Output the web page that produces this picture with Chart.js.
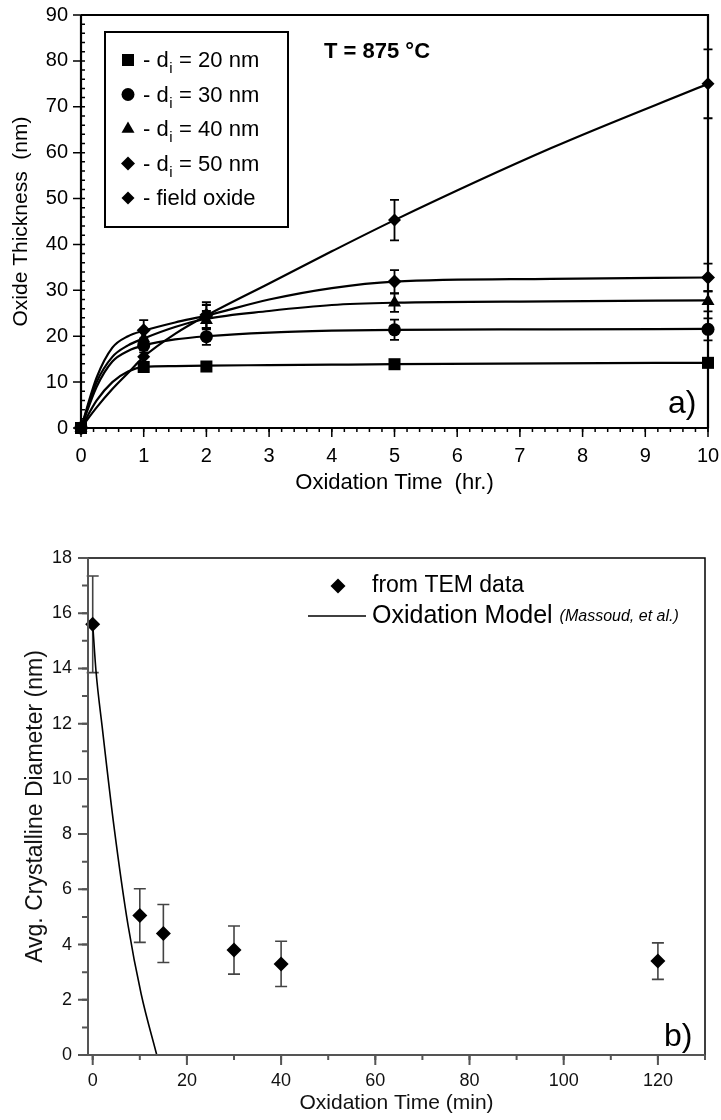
<!DOCTYPE html>
<html>
<head>
<meta charset="utf-8">
<script src="https://cdn.jsdelivr.net/npm/chart.js@4.4.1/dist/chart.umd.min.js"></script>
<style>
  body { margin: 0; background: #fff; }
  .wrap { position: absolute; left: 0; width: 721px; }
  #wrapA { top: 0; height: 520px; }
  #wrapB { top: 540px; height: 580px; }
</style>
</head>
<body>
<div class="wrap" id="wrapA"><canvas id="chartA"></canvas></div>
<div class="wrap" id="wrapB"><canvas id="chartB"></canvas></div>
<script>
// a) oxide thickness, measured points
const hours = [0, 1, 2, 5, 10];
const thick20 = [0, 13.3, 13.4, 13.9, 14.2];
const thick30 = [0, 18.0, 19.9, 21.4, 21.5];
const thick40 = [0, 19.5, 23.5, 27.3, 27.6];
const thick50 = [0, 21.3, 24.6, 31.9, 32.8];
const thickField = [0, 15.5, 24.3, 45.3, 75.0];
const err20 = [0, 0, 0, 0, 0];
const err30 = [0, 1.5, 1.8, 2.2, 2.4];
const err40 = [0, 1.6, 2.0, 2.0, 2.2];
const err50 = [0, 2.2, 2.8, 2.5, 3.0];
const errField = [0, 1.5, 2.5, 4.4, 7.5];

// a) fitted growth curves
const fitHours = [0, 0.25, 0.5, 0.75, 1, 1.5, 2, 3, 4, 5, 7.5, 10];
const fit20 = [0, 6.0, 10.0, 12.3, 13.3, 13.5, 13.6, 13.7, 13.8, 13.9, 14.1, 14.2];
const fit30 = [0, 9.0, 14.5, 16.8, 18.0, 19.3, 20.0, 20.8, 21.2, 21.4, 21.5, 21.6];
const fit40 = [0, 10.0, 15.5, 18.0, 19.5, 22.0, 23.8, 25.5, 26.8, 27.3, 27.6, 27.8];
const fit50 = [0, 11.0, 17.5, 20.0, 21.2, 23.0, 24.5, 28.0, 30.5, 31.9, 32.5, 32.8];
const fitField = [0, 4.5, 8.5, 12.0, 15.5, 20.5, 24.5, 31.5, 38.5, 45.3, 61.0, 75.0];

const seriesLabels = ['20 nm', '30 nm', '40 nm', '50 nm', 'field oxide'];
const xTicksA = [0, 1, 2, 3, 4, 5, 6, 7, 8, 9, 10];
const yTicksA = [0, 10, 20, 30, 40, 50, 60, 70, 80, 90];

// b) crystallite diameter
const minutes = [0, 10, 15, 30, 40, 120];
const diameter = [15.6, 5.05, 4.4, 3.8, 3.3, 3.4];
const diameterErr = [1.75, 0.97, 1.05, 0.87, 0.82, 0.66];
const modelMinutes = [0, 0.7, 2, 4.5, 7.5, 10.3, 13.6];
const modelDiameter = [15.6, 13.9, 11.9, 8.3, 4.7, 2.2, 0];
const xTicksB = [0, 20, 40, 60, 80, 100, 120];
const yTicksB = [0, 2, 4, 6, 8, 10, 12, 14, 16, 18];

const FONT = '"Liberation Sans", Arial, sans-serif';

function toPoints(xs, ys) {
  return xs.map((x, i) => ({ x: x, y: ys[i] }));
}

function markers(label, ys, errs, style, r, sub) {
  return {
    label: label,
    data: toPoints(hours, ys),
    errors: errs,
    showLine: false,
    pointStyle: style,
    pointRadius: r,
    pointBackgroundColor: '#000',
    pointBorderColor: '#000',
    pointBorderWidth: 0,
    clip: false,
    inBox: true,
    sub: sub
  };
}

function curve(xs, ys, width) {
  return {
    data: toPoints(xs, ys),
    showLine: true,
    borderColor: '#000',
    borderWidth: width,
    pointRadius: 0,
    cubicInterpolationMode: 'monotone',
    fill: false
  };
}

// error bars, drawn under the markers
const errorBars = {
  id: 'errorBars',
  beforeDatasetsDraw(chart, args, o) {
    const { ctx, scales: { x, y } } = chart;
    ctx.save();
    ctx.strokeStyle = o.color || '#000';
    ctx.lineWidth = o.width || 1.5;
    const cap = o.cap || 5;
    chart.data.datasets.forEach(ds => {
      if (!ds.errors) return;
      ds.data.forEach((pt, j) => {
        const e = ds.errors[j];
        if (!e) return;
        const px = x.getPixelForValue(pt.x);
        const top = y.getPixelForValue(pt.y + e);
        const bot = y.getPixelForValue(pt.y - e);
        ctx.beginPath();
        ctx.moveTo(px, top); ctx.lineTo(px, bot);
        ctx.moveTo(px - cap, top); ctx.lineTo(px + cap, top);
        ctx.moveTo(px - cap, bot); ctx.lineTo(px + cap, bot);
        ctx.stroke();
      });
    });
    ctx.restore();
  }
};

function tickRow(ctx, scale, area, step, len) {
  const start = Math.ceil(scale.min / step - 1e-9);
  ctx.beginPath();
  for (let k = start; k * step <= scale.max + 1e-9; k++) {
    const p = scale.getPixelForValue(k * step);
    if (scale.isHorizontal()) {
      ctx.moveTo(p, area.bottom); ctx.lineTo(p, area.bottom + len);
    } else {
      ctx.moveTo(area.left, p); ctx.lineTo(area.left - len, p);
    }
  }
  ctx.stroke();
}

// plot frame with major and minor tick marks
const axisFrame = {
  id: 'axisFrame',
  afterDatasetsDraw(chart, args, o) {
    const { ctx, chartArea: a, scales: { x, y } } = chart;
    ctx.save();
    ctx.strokeStyle = o.axisColor;
    ctx.lineWidth = o.tickWidth;
    tickRow(ctx, x, a, o.xMajor, o.xMajorLen);
    tickRow(ctx, x, a, o.xMinor, o.xMinorLen);
    tickRow(ctx, y, a, o.yMajor, o.yMajorLen);
    tickRow(ctx, y, a, o.yMinor, o.yMinorLen);

    ctx.strokeStyle = o.boxColor;
    ctx.lineWidth = o.boxWidth;
    ctx.beginPath();
    ctx.moveTo(a.left, a.top); ctx.lineTo(a.right, a.top); ctx.lineTo(a.right, a.bottom);
    ctx.stroke();

    ctx.strokeStyle = o.axisColor;
    ctx.lineWidth = o.axisWidth;
    ctx.beginPath();
    ctx.moveTo(a.left, a.top); ctx.lineTo(a.left, a.bottom); ctx.lineTo(a.right, a.bottom);
    ctx.stroke();
    ctx.restore();
  }
};

// loose text on the plot
const noteText = {
  id: 'noteText',
  afterDraw(chart, args, o) {
    const ctx = chart.ctx;
    ctx.save();
    (o.items || []).forEach(it => {
      ctx.font = it.font;
      ctx.fillStyle = it.color || '#000';
      ctx.textAlign = 'left';
      ctx.textBaseline = 'alphabetic';
      ctx.fillText(it.text, it.x, it.y);
    });
    ctx.restore();
  }
};

// boxed legend for panel a
const boxLegend = {
  id: 'boxLegend',
  afterDraw(chart, args, o) {
    const ctx = chart.ctx;
    const b = o.box;
    ctx.save();
    ctx.fillStyle = '#fff';
    ctx.fillRect(b.x, b.y, b.w, b.h);
    ctx.strokeStyle = '#000';
    ctx.lineWidth = 2;
    ctx.strokeRect(b.x, b.y, b.w, b.h);
    const items = chart.data.datasets.filter(ds => ds.inBox);
    items.forEach((ds, i) => {
      const cy = b.y + o.first + i * o.step;
      ctx.fillStyle = '#000';
      ctx.strokeStyle = '#000';
      Chart.helpers.drawPoint(ctx, { pointStyle: ds.pointStyle, radius: ds.pointRadius, rotation: 0, borderWidth: 0 }, b.x + o.symX, cy);
      ctx.font = o.font;
      ctx.textBaseline = 'alphabetic';
      let tx = b.x + o.textX;
      const base = cy + 7;
      if (ds.sub) {
        const head = '- d';
        ctx.fillText(head, tx, base);
        tx += ctx.measureText(head).width;
        ctx.font = o.subFont;
        ctx.fillText('i', tx + 0.5, base + 6);
        tx += ctx.measureText('i').width + 1;
        ctx.font = o.font;
        ctx.fillText(' = ' + ds.label, tx, base);
      } else {
        ctx.fillText('- ' + ds.label, tx, base);
      }
    });
    ctx.restore();
  }
};

// legend for panel b
const modelLegend = {
  id: 'modelLegend',
  afterDraw(chart, args, o) {
    const ctx = chart.ctx;
    ctx.save();
    ctx.fillStyle = '#000';
    ctx.strokeStyle = '#000';
    Chart.helpers.drawPoint(ctx, { pointStyle: 'rectRot', radius: 7.5, rotation: 0, borderWidth: 0 }, o.symX, o.row1);
    ctx.lineWidth = 1.5;
    ctx.beginPath();
    ctx.moveTo(o.lineX0, o.row2); ctx.lineTo(o.lineX1, o.row2);
    ctx.stroke();
    ctx.textBaseline = 'middle';
    ctx.font = o.font;
    ctx.fillText(o.labels[0], o.textX, o.row1);
    ctx.font = o.font2;
    ctx.fillText(o.labels[1], o.textX, o.row2);
    const w = ctx.measureText(o.labels[1] + ' ').width;
    ctx.font = o.italic;
    ctx.fillText(o.labels[2], o.textX + w, o.row2 + 1);
    ctx.restore();
  }
};

function fixedTicks(list) {
  return function (scale) {
    scale.ticks = list.map(v => ({ value: v }));
  };
}

// axis box sizes are set by hand, label overhang is not reserved
function fitX(h) {
  return s => { s.height = h; s.paddingLeft = 0; s.paddingRight = 0; };
}
function fitY(w) {
  return s => { s.width = w; s.paddingTop = 0; s.paddingBottom = 0; };
}

// panel a
new Chart(document.getElementById('chartA'), {
  type: 'scatter',
  data: {
    datasets: [
      markers(seriesLabels[0], thick20, err20, 'rect', 8.5, true),
      markers(seriesLabels[1], thick30, err30, 'circle', 6.5, true),
      markers(seriesLabels[2], thick40, err40, 'triangle', 7.5, true),
      markers(seriesLabels[3], thick50, err50, 'rectRot', 7, true),
      markers(seriesLabels[4], thickField, errField, 'rectRot', 6.5, false),
      curve(fitHours, fit20, 2.2),
      curve(fitHours, fit30, 2.2),
      curve(fitHours, fit40, 2.2),
      curve(fitHours, fit50, 2.2),
      curve(fitHours, fitField, 2.2)
    ]
  },
  options: {
    responsive: true,
    maintainAspectRatio: false,
    animation: false,
    events: [],
    layout: { padding: { top: 15, right: 13, left: 0, bottom: 0 } },
    scales: {
      x: {
        type: 'linear', min: 0, max: 10,
        afterBuildTicks: fixedTicks(xTicksA),
        afterFit: fitX(92),
        grid: { display: false, drawTicks: false },
        border: { display: false },
        ticks: { color: '#000', padding: 16, font: { family: FONT, size: 20 } },
        title: {
          display: true, text: 'Oxidation Time  (hr.)', color: '#000',
          font: { family: FONT, size: 22 }, padding: { top: 0, bottom: 24 }
        }
      },
      y: {
        type: 'linear', min: 0, max: 90,
        afterBuildTicks: fixedTicks(yTicksA),
        afterFit: fitY(81),
        grid: { display: false, drawTicks: false },
        border: { display: false },
        ticks: { color: '#000', padding: 13, font: { family: FONT, size: 20 } },
        title: {
          display: true, text: 'Oxide Thickness  (nm)', color: '#000',
          font: { family: FONT, size: 21 }, padding: { top: 9, bottom: 0 }
        }
      }
    },
    plugins: {
      legend: { display: false },
      tooltip: { enabled: false },
      errorBars: { color: '#000', width: 1.8, cap: 4.5 },
      axisFrame: {
        boxColor: '#000', boxWidth: 2.2, axisColor: '#000', axisWidth: 2.2, tickWidth: 1.5,
        xMajor: 1, xMajorLen: 9, xMinor: 0.2, xMinorLen: 4,
        yMajor: 10, yMajorLen: 8, yMinor: 2, yMinorLen: -4
      },
      boxLegend: {
        box: { x: 105, y: 32, w: 183, h: 195 },
        first: 28, step: 34.5, symX: 23, textX: 38,
        font: '22px ' + FONT, subFont: '15px ' + FONT
      },
      noteText: {
        items: [
          { text: 'T = 875 °C', x: 324, y: 58, font: 'bold 22px ' + FONT },
          { text: 'a)', x: 668, y: 413, font: '32px ' + FONT }
        ]
      }
    }
  },
  plugins: [errorBars, axisFrame, boxLegend, noteText]
});

// panel b
new Chart(document.getElementById('chartB'), {
  type: 'scatter',
  data: {
    datasets: [
      {
        label: 'from TEM data',
        data: toPoints(minutes, diameter),
        errors: diameterErr,
        pointStyle: 'rectRot',
        pointRadius: 7.5,
        pointBackgroundColor: '#000',
        pointBorderWidth: 0,
        clip: false
      },
      Object.assign(curve(modelMinutes, modelDiameter, 1.6), { label: 'Oxidation Model' })
    ]
  },
  options: {
    responsive: true,
    maintainAspectRatio: false,
    animation: false,
    events: [],
    layout: { padding: { top: 18, right: 16, left: 0, bottom: 0 } },
    scales: {
      x: {
        type: 'linear', min: -1, max: 130,
        afterBuildTicks: fixedTicks(xTicksB),
        afterFit: fitX(65),
        grid: { display: false, drawTicks: false },
        border: { display: false },
        ticks: { color: '#111', padding: 15, font: { family: FONT, size: 18 } },
        title: {
          display: true, text: 'Oxidation Time (min)', color: '#111',
          font: { family: FONT, size: 21 }, padding: { top: 0, bottom: 4 }
        }
      },
      y: {
        type: 'linear', min: 0, max: 18,
        afterBuildTicks: fixedTicks(yTicksB),
        afterFit: fitY(88),
        grid: { display: false, drawTicks: false },
        border: { display: false },
        ticks: { color: '#111', padding: 16, font: { family: FONT, size: 18 } },
        title: {
          display: true, text: 'Avg. Crystalline Diameter (nm)', color: '#111',
          font: { family: FONT, size: 23 }, padding: { top: 22, bottom: 0 }
        }
      }
    },
    plugins: {
      legend: { display: false },
      tooltip: { enabled: false },
      errorBars: { color: '#444', width: 1.6, cap: 6 },
      axisFrame: {
        boxColor: '#000', boxWidth: 1.5, axisColor: '#555', axisWidth: 2, tickWidth: 2,
        xMajor: 20, xMajorLen: 10, xMinor: 10, xMinorLen: 5,
        yMajor: 2, yMajorLen: 10, yMinor: 1, yMinorLen: 6
      },
      modelLegend: {
        labels: ['from TEM data', 'Oxidation Model', '(Massoud, et al.)'],
        symX: 338, row1: 46, row2: 76, lineX0: 308, lineX1: 366, textX: 372,
        font: '23px ' + FONT, font2: '25px ' + FONT, italic: 'italic 16px ' + FONT
      },
      noteText: {
        items: [{ text: 'b)', x: 664, y: 506, font: '32px ' + FONT }]
      }
    }
  },
  plugins: [errorBars, axisFrame, modelLegend, noteText]
});
</script>
</body>
</html>
